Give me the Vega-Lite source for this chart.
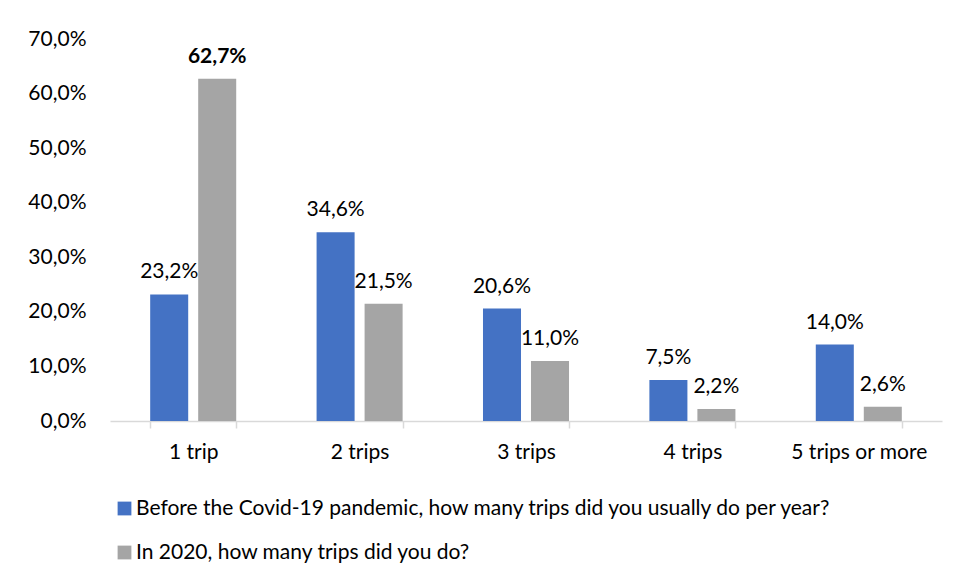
{
  "$schema": "https://vega.github.io/schema/vega-lite/v6.json",
  "width": 832,
  "height": 382,
  "autosize": {"type": "none"},
  "padding": {"left": 110, "top": 39, "right": 15, "bottom": 157},
  "background": "white",
  "config": {
    "locale": {"number": {"decimal": ",", "thousands": ".", "grouping": [3], "currency": ["", " €"]}},
    "view": {"stroke": null},
    "font": "Lato",
    "axis": {"labelFont": "Lato", "labelFontSize": 21, "labelColor": "#000000", "grid": false, "title": null}
  },
  "data": {
    "values": [
      {"trips": "1 trip", "series": "Before the Covid-19 pandemic, how many trips did you usually do per year?", "value": 0.232},
      {"trips": "1 trip", "series": "In 2020, how many trips did you do?", "value": 0.627},
      {"trips": "2 trips", "series": "Before the Covid-19 pandemic, how many trips did you usually do per year?", "value": 0.346},
      {"trips": "2 trips", "series": "In 2020, how many trips did you do?", "value": 0.215},
      {"trips": "3 trips", "series": "Before the Covid-19 pandemic, how many trips did you usually do per year?", "value": 0.206},
      {"trips": "3 trips", "series": "In 2020, how many trips did you do?", "value": 0.11},
      {"trips": "4 trips", "series": "Before the Covid-19 pandemic, how many trips did you usually do per year?", "value": 0.075},
      {"trips": "4 trips", "series": "In 2020, how many trips did you do?", "value": 0.022},
      {"trips": "5 trips or more", "series": "Before the Covid-19 pandemic, how many trips did you usually do per year?", "value": 0.14},
      {"trips": "5 trips or more", "series": "In 2020, how many trips did you do?", "value": 0.026}
    ]
  },
  "encoding": {
    "x": {
      "field": "trips", "type": "nominal", "sort": null,
      "scale": {"paddingInner": 0.483, "paddingOuter": 0.2415},
      "axis": {"labelAngle": 0, "domainColor": "#d9d9d9", "domainWidth": 1.5, "tickColor": "#d9d9d9", "tickWidth": 1.5, "tickSize": 7, "tickBand": "extent", "labelPadding": 13}
    },
    "xOffset": {
      "field": "series", "type": "nominal", "sort": null,
      "scale": {"paddingInner": 0.208, "paddingOuter": 0}
    },
    "y": {
      "field": "value", "type": "quantitative",
      "scale": {"domain": [0, 0.7], "nice": false},
      "axis": {"format": ".1%", "values": [0, 0.1, 0.2, 0.3, 0.4, 0.5, 0.6, 0.7], "domain": false, "ticks": false, "labelPadding": 24}
    }
  },
  "layer": [
    {
      "mark": {"type": "bar"},
      "encoding": {
        "color": {
          "field": "series", "type": "nominal", "sort": null,
          "scale": {"range": ["#4472C4", "#A5A5A5"]},
          "legend": {
            "title": null, "orient": "none", "legendX": 4, "legendY": 459,
            "direction": "vertical", "symbolType": "square", "symbolSize": 190,
            "labelFont": "Lato", "labelFontSize": 21, "labelColor": "#000000",
            "labelOffset": 1, "rowPadding": 22, "labelLimit": 900
          }
        }
      }
    },
    {
      "transform": [{"filter": "datum.value < 0.6"}],
      "mark": {"type": "text", "baseline": "bottom", "dy": -12, "fontSize": 21, "font": "Lato", "color": "#000000"},
      "encoding": {"text": {"field": "value", "type": "quantitative", "format": ".1%"}}
    },
    {
      "transform": [{"filter": "datum.value >= 0.6"}],
      "mark": {"type": "text", "baseline": "bottom", "dy": -12, "fontSize": 21, "font": "Lato", "fontWeight": "bold", "color": "#000000"},
      "encoding": {"text": {"field": "value", "type": "quantitative", "format": ".1%"}}
    }
  ]
}
